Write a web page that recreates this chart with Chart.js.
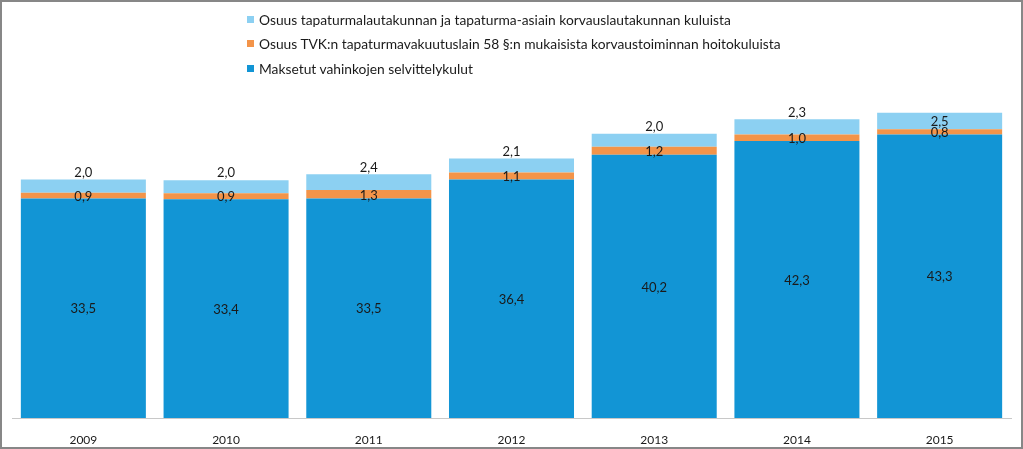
<!DOCTYPE html>
<html>
<head>
<meta charset="utf-8">
<script src="https://cdn.jsdelivr.net/npm/chart.js@4.4.1/dist/chart.umd.min.js"></script>
<style>
  html, body { margin: 0; padding: 0; background: #fff; }
  .wrap { position: relative; width: 1023px; height: 449px; }
  .wrap canvas { position: absolute; left: 0; top: 0; }
  .frame { position: absolute; left: 0; top: 0; width: 1023px; height: 449px;
           box-sizing: border-box; border: 2px solid #878787; pointer-events: none; }
  .legend { position: absolute; left: 247px; top: 7px; font-family: Lato, sans-serif;
            font-size: 13.8px; color: #1a1a1a; }
  .legend-item { display: flex; align-items: center; height: 24.5px; white-space: nowrap; }
  .legend-box { width: 7px; height: 7px; margin-right: 5px; }
</style>
</head>
<body>
<div class="wrap">
  <canvas id="chart" width="1023" height="449"></canvas>
  <div class="legend" id="legend"></div>
  <div class="frame"></div>
</div>
<script>
// ── Data ──────────────────────────────────────────────────
const years = ["2009", "2010", "2011", "2012", "2013", "2014", "2015"];
const selvittelykulut = [33.5, 33.4, 33.5, 36.4, 40.2, 42.3, 43.3];
const tvkOsuus        = [0.9, 0.9, 1.3, 1.1, 1.2, 1.0, 0.8];
const lautakuntaOsuus = [2.0, 2.0, 2.4, 2.1, 2.0, 2.3, 2.5];

const seriesLabels = [
  "Maksetut vahinkojen selvittelykulut",
  "Osuus TVK:n tapaturmavakuutuslain 58 §:n mukaisista korvaustoiminnan hoitokuluista",
  "Osuus tapaturmalautakunnan ja tapaturma-asiain korvauslautakunnan kuluista",
];
const colors = ["#1295d5", "#f39449", "#8cd0f2"];

// top labels sit above the bar, except where the original had them inside
const topLabelInside = [false, false, false, false, false, false, true];

const fmt = v => v.toFixed(1).replace(".", ",");

// ── Data labels plugin ────────────────────────────────────
const segmentLabels = {
  id: "segmentLabels",
  afterDatasetsDraw(chart) {
    const ctx = chart.ctx;
    ctx.save();
    ctx.font = '13px Lato, sans-serif';
    ctx.fillStyle = "#1a1a1a";
    ctx.textAlign = "center";
    ctx.textBaseline = "middle";
    chart.data.datasets.forEach((ds, di) => {
      const meta = chart.getDatasetMeta(di);
      meta.data.forEach((bar, i) => {
        const top = Math.min(bar.y, bar.base);
        const bottom = Math.max(bar.y, bar.base);
        let y = (top + bottom) / 2;
        if (di === 2 && !topLabelInside[i]) y = top - 8;
        ctx.fillText(fmt(ds.data[i]), bar.x, y + 1);
      });
    });
    ctx.restore();
  },
};

const chart = new Chart(document.getElementById("chart"), {
  type: "bar",
  data: {
    labels: years,
    datasets: [
      { label: seriesLabels[0], data: selvittelykulut, backgroundColor: colors[0] },
      { label: seriesLabels[1], data: tvkOsuus,        backgroundColor: colors[1] },
      { label: seriesLabels[2], data: lautakuntaOsuus, backgroundColor: colors[2] },
    ],
  },
  options: {
    responsive: false,
    animation: false,
    datasets: { bar: { barPercentage: 0.876, categoryPercentage: 1, borderWidth: 0 } },
    layout: { padding: { left: 12, right: 12, top: 25, bottom: 0 } },
    plugins: { legend: { display: false }, tooltip: { enabled: false } },
    scales: {
      x: {
        stacked: true,
        grid: { display: false },
        border: { display: true, color: "#c8c8c8", width: 1 },
        ticks: { color: "#1a1a1a", padding: 7, font: { family: "Lato", size: 12 } },
        afterFit: s => { s.height = 31; },
      },
      y: {
        stacked: true,
        display: false,
        min: 0,
        max: 60,
      },
    },
  },
  plugins: [segmentLabels],
});

// ── HTML legend (reverse order, vertical) ─────────────────
const legendEl = document.getElementById("legend");
[2, 1, 0].forEach(i => {
  const item = document.createElement("div");
  item.className = "legend-item";
  item.innerHTML = `<span class="legend-box" style="background:${colors[i]}"></span><span>${seriesLabels[i]}</span>`;
  legendEl.appendChild(item);
});
</script>
</body>
</html>
